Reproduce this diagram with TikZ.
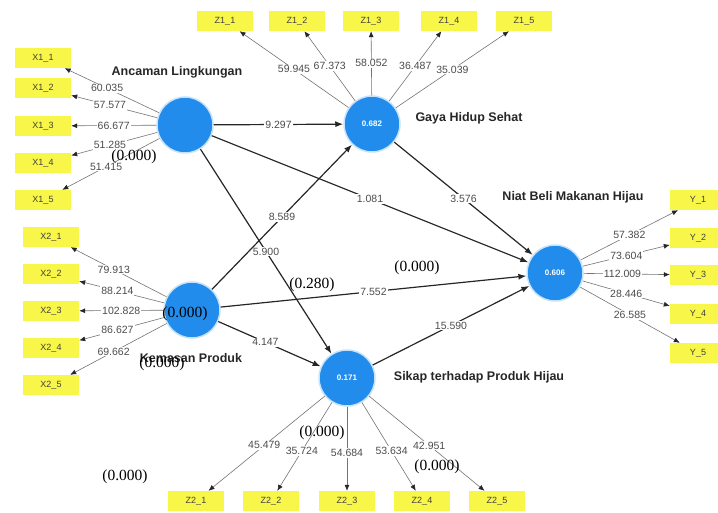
\documentclass[tikz,border=0pt]{standalone}
\usepackage{fontspec}
\setmainfont{Liberation Sans}
\newfontfamily\ovfont{Liberation Serif}
\usetikzlibrary{arrows.meta}
\definecolor{lvblue}{RGB}{33,140,236}
\definecolor{boxyellow}{RGB}{248,246,72}

\begin{document}
\begin{tikzpicture}[x=1pt, y=-1pt,
    lv/.style={circle, fill=lvblue, draw=lvblue!25, line width=1.5pt, minimum size=56pt, inner sep=0pt, text=white, font=\fontsize{8}{9}\selectfont\bfseries},
    ind/.style={fill=boxyellow, minimum width=56pt, minimum height=20pt, inner sep=0pt, text=black!75, font=\fontsize{9}{10}\selectfont},
    lvname/.style={font=\fontsize{12.5}{14}\selectfont\bfseries, text=black!85},
    outer/.style={draw=black!55, line width=0.6pt, -{Latex[length=6pt,width=5pt,color=black!85]}},
    inner/.style={draw=black!85, line width=1.2pt, -{Latex[length=8pt,width=6pt]}},
    val/.style={fill=white, inner sep=1pt, font=\fontsize{10.5}{11}\selectfont, text=black!70},
    pval/.style={font=\ovfont\fontsize{15.5}{18}\selectfont}]
    \useasboundingbox (0,0) rectangle (718,513);

    % 潜在変数
    \node[lv] (AL) at (185,125) {};
    \node[lv] (GH) at (372,124) {0.682};
    \node[lv] (KP) at (192,310) {};
    \node[lv] (NB) at (555,273) {0.606};
    \node[lv] (SP) at (347,378) {0.171};

    \node[lvname] (ALname) at (177,72) {Ancaman Lingkungan};
    \node[lvname] (GHname) at (469,118) {Gaya Hidup Sehat};
    \node[lvname] (KPname) at (191,358) {Kemasan Produk};
    \node[lvname] (NBname) at (573,197) {Niat Beli Makanan Hijau};
    \node[lvname] (SPname) at (479,377) {Sikap terhadap Produk Hijau};

    % 指標
    \node[ind] (X11) at (43,58) {X1\_1};
    \node[ind] (X12) at (43,88) {X1\_2};
    \node[ind] (X13) at (43,126) {X1\_3};
    \node[ind] (X14) at (43,163) {X1\_4};
    \node[ind] (X15) at (43,200) {X1\_5};

    \node[ind] (X21) at (51,237) {X2\_1};
    \node[ind] (X22) at (51,274) {X2\_2};
    \node[ind] (X23) at (51,311) {X2\_3};
    \node[ind] (X24) at (51,348) {X2\_4};
    \node[ind] (X25) at (51,385) {X2\_5};

    \node[ind] (Z11) at (225,21) {Z1\_1};
    \node[ind] (Z12) at (297,21) {Z1\_2};
    \node[ind] (Z13) at (371,21) {Z1\_3};
    \node[ind] (Z14) at (449,21) {Z1\_4};
    \node[ind] (Z15) at (524,21) {Z1\_5};

    \node[ind] (Y1) at (698,200) {Y\_1};
    \node[ind] (Y2) at (698,238) {Y\_2};
    \node[ind] (Y3) at (698,275) {Y\_3};
    \node[ind] (Y4) at (698,314) {Y\_4};
    \node[ind] (Y5) at (698,353) {Y\_5};

    \node[ind] (Z21) at (196,501) {Z2\_1};
    \node[ind] (Z22) at (271,501) {Z2\_2};
    \node[ind] (Z23) at (347,501) {Z2\_3};
    \node[ind] (Z24) at (422,501) {Z2\_4};
    \node[ind] (Z25) at (497,501) {Z2\_5};

    % 外側の線
    \draw[outer] (AL) -- node[val, pos=0.55] {60.035} (X11);
    \draw[outer] (AL) -- node[val, pos=0.55] {57.577} (X12);
    \draw[outer] (AL) -- node[val, pos=0.5] {66.677} (X13);
    \draw[outer] (AL) -- node[val, pos=0.55] {51.285} (X14);
    \draw[outer] (AL) -- node[val, pos=0.55] {51.415} (X15);

    \draw[outer] (KP) -- node[val, pos=0.55] {79.913} (X21);
    \draw[outer] (KP) -- node[val, pos=0.55] {88.214} (X22);
    \draw[outer] (KP) -- node[val, pos=0.5] {102.828} (X23);
    \draw[outer] (KP) -- node[val, pos=0.55] {86.627} (X24);
    \draw[outer] (KP) -- node[val, pos=0.55] {69.662} (X25);

    \draw[outer] (GH) -- node[val, pos=0.5] {59.945} (Z11);
    \draw[outer] (GH) -- node[val, pos=0.5] {67.373} (Z12);
    \draw[outer] (GH) -- node[val, pos=0.5] {58.052} (Z13);
    \draw[outer] (GH) -- node[val, pos=0.5] {36.487} (Z14);
    \draw[outer] (GH) -- node[val, pos=0.5] {35.039} (Z15);

    \draw[outer] (NB) -- node[val, pos=0.5] {57.382} (Y1);
    \draw[outer] (NB) -- node[val, pos=0.5] {73.604} (Y2);
    \draw[outer] (NB) -- node[val, pos=0.45] {112.009} (Y3);
    \draw[outer] (NB) -- node[val, pos=0.5] {28.446} (Y4);
    \draw[outer] (NB) -- node[val, pos=0.5] {26.585} (Y5);

    \draw[outer] (SP) -- node[val, pos=0.52] {45.479} (Z21);
    \draw[outer] (SP) -- node[val, pos=0.55] {35.724} (Z22);
    \draw[outer] (SP) -- node[val, pos=0.55] {54.684} (Z23);
    \draw[outer] (SP) -- node[val, pos=0.55] {53.634} (Z24);
    \draw[outer] (SP) -- node[val, pos=0.52] {42.951} (Z25);

    % 構造の線
    \draw[inner] (AL) -- node[val] {9.297} (GH);
    \draw[inner] (AL) -- node[val] {1.081} (NB);
    \draw[inner] (AL) -- node[val] {5.900} (SP);
    \draw[inner] (KP) -- node[val] {8.589} (GH);
    \draw[inner] (GH) -- node[val] {3.576} (NB);
    \draw[inner] (KP) -- node[val] {7.552} (NB);
    \draw[inner] (SP) -- node[val] {15.590} (NB);
    \draw[inner] (KP) -- node[val, pos=0.46] {4.147} (SP);

    % p値
    \node[pval] (p1) at (134,157) {(0.000)};
    \node[pval] (p2) at (185,314) {(0.000)};
    \node[pval] (p3) at (162,364) {(0.000)};
    \node[pval] (p4) at (312,285) {(0.280)};
    \node[pval] (p5) at (417,268) {(0.000)};
    \node[pval] (p6) at (322,433) {(0.000)};
    \node[pval] (p7) at (437,467) {(0.000)};
    \node[pval] (p8) at (125,477) {(0.000)};
\end{tikzpicture}
\end{document}
